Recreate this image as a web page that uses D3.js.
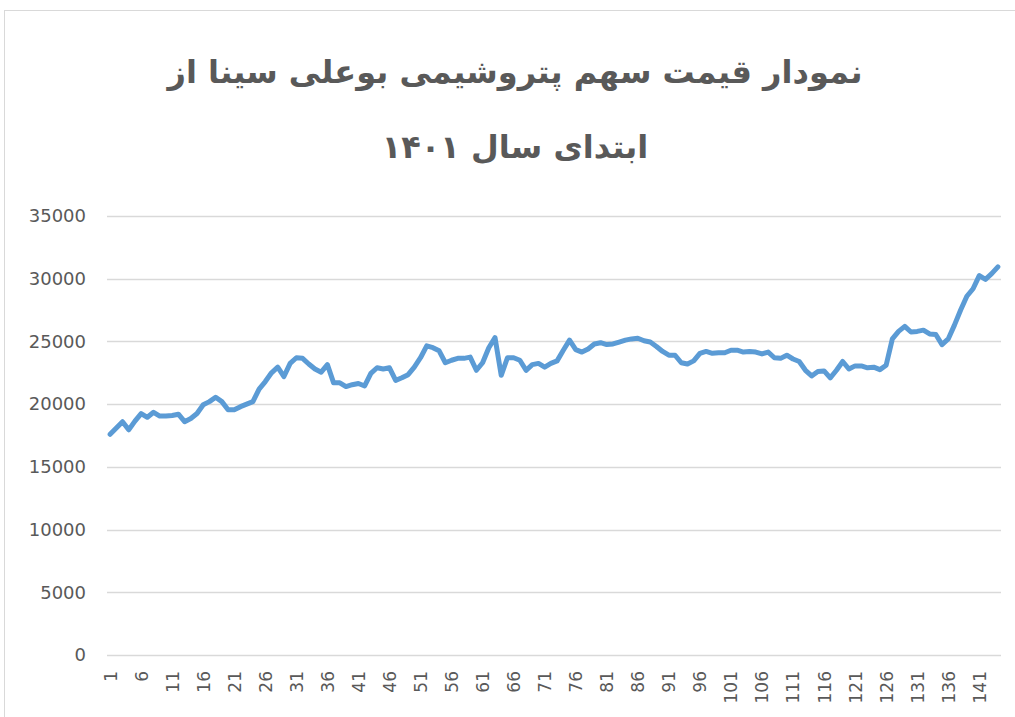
<!DOCTYPE html>
<html>
<head>
<meta charset="utf-8">
<script src="https://cdn.jsdelivr.net/npm/d3@7"></script>
<style>
  body { margin: 0; background: #fff; }
  svg { display: block; }
</style>
</head>
<body>
<div id="chart"></div>
<script>
const width = 1015;
const height = 717;

const titleLines = ["نمودار قیمت سهم پتروشیمی بوعلی سینا از", "ابتدای سال ۱۴۰۱"];

// share price, one value per trading day
const prices = [
  17600, 18100, 18600, 17950, 18650, 19250, 18950, 19350, 19050, 19050,
  19100, 19200, 18600, 18850, 19250, 19950, 20200, 20550, 20200, 19550,
  19550, 19800, 20000, 20200, 21200, 21800, 22500, 22950, 22200, 23250,
  23700, 23650, 23200, 22800, 22550, 23150, 21700, 21700, 21400, 21550,
  21650, 21450, 22450, 22900, 22800, 22900, 21900, 22100, 22350, 22950,
  23700, 24650, 24500, 24250, 23300, 23500, 23650, 23650, 23750, 22700,
  23300, 24500, 25300, 22300, 23700, 23700, 23500, 22700, 23150, 23250,
  22950, 23250, 23450, 24300, 25100, 24350, 24150, 24400, 24800, 24900,
  24750, 24800, 24950, 25100, 25200, 25250, 25050, 24950, 24600, 24200,
  23900, 23900, 23300, 23200, 23450, 24050, 24200, 24050, 24100, 24100,
  24300, 24300, 24150, 24200, 24150, 24000, 24150, 23700, 23650, 23900,
  23600, 23400, 22700, 22250, 22600, 22650, 22100, 22700, 23400, 22800,
  23050, 23050, 22900, 22950, 22750, 23100, 25200, 25800, 26200, 25750,
  25800, 25900, 25600, 25550, 24750, 25200, 26300, 27500, 28600, 29200,
  30250, 29950, 30400, 30950
];
const days = prices.map((d, i) => i + 1);
const xTicks = days.filter(d => (d - 1) % 5 === 0);
const yTicks = [0, 5000, 10000, 15000, 20000, 25000, 30000, 35000];

const svg = d3.select("#chart")
    .append("svg")
        .attr("width", width)
        .attr("height", height);

// outer chart frame
svg.append("rect")
    .attr("x", 4.5)
    .attr("y", 10.5)
    .attr("width", width + 10)
    .attr("height", height + 10)
    .attr("fill", "none")
    .attr("stroke", "#d9d9d9");

const xScale = d3.scalePoint()
    .domain(days)
    .range([107, 1001])
    .padding(0.5);

const yScale = d3.scaleLinear()
    .domain([0, 35000])
    .range([655, 216]);

// horizontal gridlines
svg.append("g")
    .selectAll("line")
    .data(yTicks)
    .join("line")
        .attr("x1", 107)
        .attr("x2", 1001)
        .attr("y1", d => Math.round(yScale(d)) + 0.5)
        .attr("y2", d => Math.round(yScale(d)) + 0.5)
        .attr("stroke", "#d9d9d9")
        .attr("stroke-width", 1.5);

const yAxis = svg.append("g")
    .attr("transform", "translate(86,0)")
    .call(d3.axisLeft(yScale).tickValues(yTicks).tickSize(0).tickPadding(0).tickFormat(d3.format("d")));
yAxis.select(".domain").remove();
yAxis.selectAll("text")
    .attr("fill", "#595959")
    .style("font-family", "DejaVu Sans")
    .style("font-size", "18px");

const xAxis = svg.append("g")
    .attr("transform", "translate(0,655)")
    .call(d3.axisBottom(xScale).tickValues(xTicks).tickSize(0));
xAxis.select(".domain").remove();
xAxis.selectAll("text")
    .attr("fill", "#595959")
    .attr("transform", "rotate(-90)")
    .attr("text-anchor", "end")
    .attr("x", -16)
    .attr("y", 0)
    .attr("dy", "0.35em")
    .style("font-family", "DejaVu Sans")
    .style("font-size", "17px");

const line = d3.line()
    .x((d, i) => xScale(days[i]))
    .y(d => yScale(d));

svg.append("path")
    .datum(prices)
    .attr("d", line)
    .attr("fill", "none")
    .attr("stroke", "#5b9bd5")
    .attr("stroke-width", 5)
    .attr("stroke-linejoin", "round")
    .attr("stroke-linecap", "round");

svg.append("g")
    .selectAll("text")
    .data(titleLines)
    .join("text")
        .attr("x", 515)
        .attr("y", (d, i) => 83 + i * 75)
        .attr("text-anchor", "middle")
        .attr("direction", "rtl")
        .attr("fill", "#595959")
        .style("font-family", "DejaVu Sans")
        .style("font-weight", "bold")
        .style("font-size", "32px")
        .text(d => d);
</script>
</body>
</html>
